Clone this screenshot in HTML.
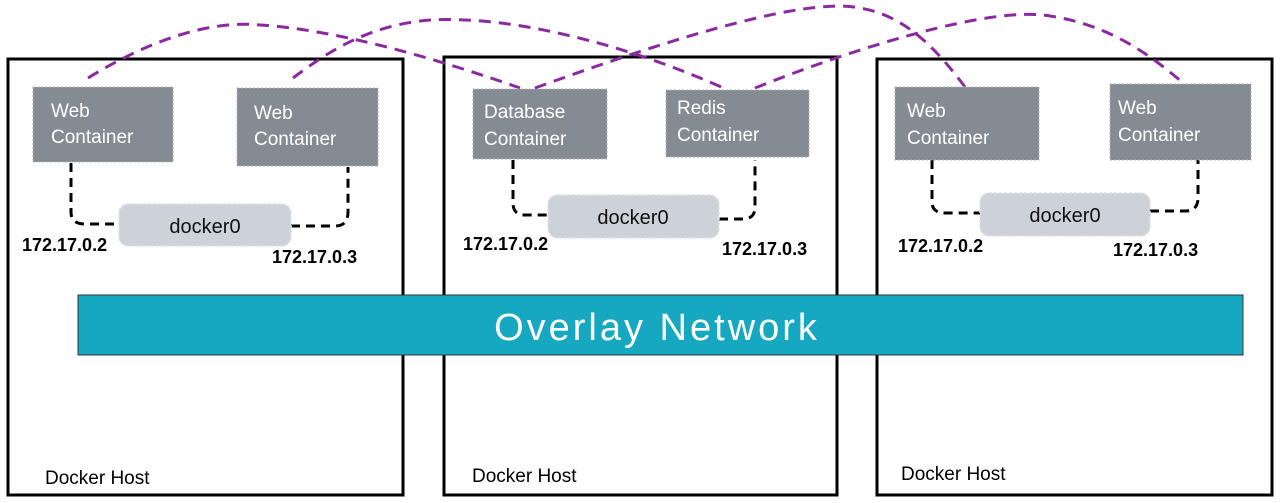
<!DOCTYPE html>
<html><head><meta charset="utf-8"><style>
html,body{margin:0;padding:0;background:#fff;width:1280px;height:503px;overflow:hidden}
svg{display:block}
.hand{font-family:"Liberation Sans",sans-serif;fill:#fff;font-size:19px}
.ip{font-family:"Liberation Sans",sans-serif;fill:#000;font-size:18px;font-weight:bold}
.lbl{font-family:"Liberation Sans",sans-serif;fill:#000;font-size:19px}
</style></head><body>
<svg width="1280" height="503" viewBox="0 0 1280 503">
<g fill="none" stroke="#000" stroke-width="3">
<rect x="8" y="59" width="395" height="436"/>
<rect x="444" y="57" width="393" height="438"/>
<rect x="877" y="59" width="395" height="436"/>
</g>
<rect x="78" y="295" width="1165" height="60" fill="#16a8c0" stroke="#333" stroke-width="1"/>
<text x="657" y="340" text-anchor="middle" font-family="Liberation Sans,sans-serif" font-size="38" fill="#fff" letter-spacing="3">Overlay Network</text>
<g fill="none" stroke="#8b2aa0" stroke-width="3" stroke-dasharray="12,8">
<path d="M88,78 C150,40 210,20 260,25 C340,30 440,60 520,88"/>
<path d="M293,78 C330,50 370,25 430,20 C520,15 640,50 728,90"/>
<path d="M535,88 C640,50 800,-5 860,8 C900,15 930,40 965,87"/>
<path d="M755,88 C850,50 990,5 1050,16 C1110,25 1150,55 1182,82"/>
</g>
<g fill="none" stroke="#000" stroke-width="3" stroke-dasharray="9,6">
<path d="M71,163 L71,212 Q71,224 85,224 L118,224"/>
<path d="M291,226 L335,226 Q348,226 348,212 L348,167"/>
<path d="M513,160 L513,203 Q513,215 525,215 L548,215"/>
<path d="M719,219 L743,219 Q755,219 755,207 L755,160"/>
<path d="M932,160 L932,202 Q932,213 945,213 L980,213"/>
<path d="M1150,211 L1185,211 Q1198,211 1198,198 L1198,160"/>
</g>
<g fill="#cdd2d8" stroke="#dfe2e6" stroke-width="1.5" stroke-dasharray="3,2">
<rect x="119" y="204" width="172" height="42" rx="9"/>
<rect x="548" y="195" width="171" height="43" rx="9"/>
<rect x="980" y="193" width="170" height="43" rx="9"/>
</g>
<g font-family="Liberation Sans,sans-serif" font-size="20" fill="#111" text-anchor="middle">
<text x="205" y="233">docker0</text>
<text x="633" y="224">docker0</text>
<text x="1065" y="222">docker0</text>
</g>
<g fill="#858b92" stroke="#b0b4b8" stroke-width="1" stroke-dasharray="2,2">
<rect x="33" y="87" width="140" height="75"/>
<rect x="237" y="88" width="141" height="78"/>
<rect x="473" y="89" width="134" height="70"/>
<rect x="666" y="90" width="143" height="67"/>
<rect x="895" y="87" width="144" height="73"/>
<rect x="1110" y="84" width="141" height="76"/>
</g>
<g>
<text x="51" y="117" class="hand">Web</text><text x="51" y="143" class="hand">Container</text>
<text x="254" y="119" class="hand">Web</text><text x="254" y="145" class="hand">Container</text>
<text x="484" y="118" class="hand">Database</text><text x="484" y="145" class="hand">Container</text>
<text x="677" y="114" class="hand">Redis</text><text x="677" y="141" class="hand">Container</text>
<text x="907" y="117" class="hand">Web</text><text x="907" y="144" class="hand">Container</text>
<text x="1118" y="114" class="hand">Web</text><text x="1118" y="141" class="hand">Container</text>
</g>
<g>
<text x="22" y="251" class="ip">172.17.0.2</text>
<text x="272" y="263" class="ip">172.17.0.3</text>
<text x="463" y="250" class="ip">172.17.0.2</text>
<text x="722" y="255" class="ip">172.17.0.3</text>
<text x="898" y="252" class="ip">172.17.0.2</text>
<text x="1113" y="256" class="ip">172.17.0.3</text>
</g>
<g>
<text x="45" y="484" class="lbl">Docker Host</text>
<text x="472" y="482" class="lbl">Docker Host</text>
<text x="901" y="480" class="lbl">Docker Host</text>
</g>
</svg>
</body></html>
